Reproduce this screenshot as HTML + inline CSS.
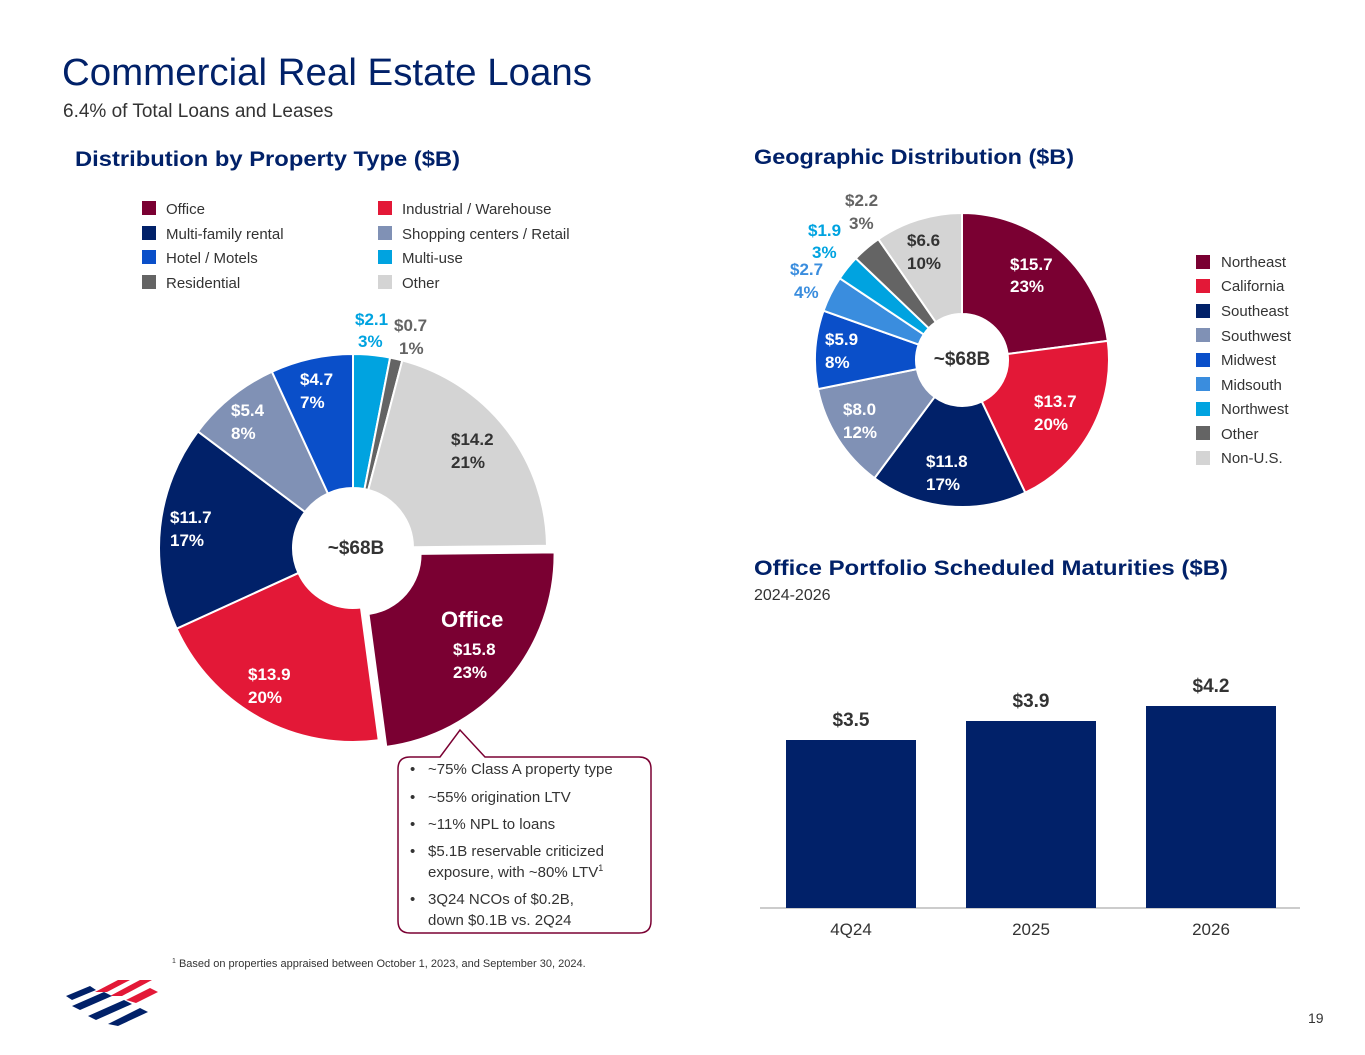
<!DOCTYPE html>
<html><head><meta charset="utf-8"><style>
body{margin:0;background:#fff;font-family:"Liberation Sans",sans-serif;}
svg{display:block}
text{font-family:"Liberation Sans",sans-serif}
.b{font-weight:bold}
</style></head><body>
<svg id="s" width="1365" height="1055" viewBox="0 0 1365 1055" xmlns="http://www.w3.org/2000/svg">
<text x="62" y="85" font-size="38" fill="#012169" textLength="530" lengthAdjust="spacingAndGlyphs">Commercial Real Estate Loans</text>
<text x="63" y="117" font-size="19" fill="#333">6.4% of Total Loans and Leases</text>
<text x="75" y="166" font-size="21" class="b" fill="#012169" textLength="385" lengthAdjust="spacingAndGlyphs">Distribution by Property Type ($B)</text>
<text x="754" y="164" font-size="21" class="b" fill="#012169" textLength="320" lengthAdjust="spacingAndGlyphs">Geographic Distribution ($B)</text>
<text x="754" y="575" font-size="21" class="b" fill="#012169" textLength="474" lengthAdjust="spacingAndGlyphs">Office Portfolio Scheduled Maturities ($B)</text>
<text x="754" y="600" font-size="16" fill="#333">2024-2026</text>
<g font-size="15" fill="#333">
<rect x="142" y="201" width="14" height="14" fill="#7a0032"/><text x="166" y="214">Office</text>
<rect x="142" y="226" width="14" height="14" fill="#012169"/><text x="166" y="239">Multi-family rental</text>
<rect x="142" y="250" width="14" height="14" fill="#0a4fc9"/><text x="166" y="263">Hotel / Motels</text>
<rect x="142" y="275" width="14" height="14" fill="#646464"/><text x="166" y="288">Residential</text>
<rect x="378" y="201" width="14" height="14" fill="#e31837"/><text x="402" y="214">Industrial / Warehouse</text>
<rect x="378" y="226" width="14" height="14" fill="#8091b5"/><text x="402" y="239">Shopping centers / Retail</text>
<rect x="378" y="250" width="14" height="14" fill="#00a3e0"/><text x="402" y="263">Multi-use</text>
<rect x="378" y="275" width="14" height="14" fill="#d4d4d4"/><text x="402" y="288">Other</text>
</g>
<g font-size="15" fill="#333">
<rect x="1196" y="255" width="14" height="14" fill="#7a0032"/><text x="1221" y="267">Northeast</text>
<rect x="1196" y="279" width="14" height="14" fill="#e31837"/><text x="1221" y="291">California</text>
<rect x="1196" y="304" width="14" height="14" fill="#012169"/><text x="1221" y="316">Southeast</text>
<rect x="1196" y="328" width="14" height="14" fill="#8091b5"/><text x="1221" y="341">Southwest</text>
<rect x="1196" y="353" width="14" height="14" fill="#0a4fc9"/><text x="1221" y="365">Midwest</text>
<rect x="1196" y="377" width="14" height="14" fill="#3a8dde"/><text x="1221" y="390">Midsouth</text>
<rect x="1196" y="402" width="14" height="14" fill="#00a3e0"/><text x="1221" y="414">Northwest</text>
<rect x="1196" y="426" width="14" height="14" fill="#646464"/><text x="1221" y="439">Other</text>
<rect x="1196" y="451" width="14" height="14" fill="#d4d4d4"/><text x="1221" y="463">Non-U.S.</text>
</g>
<g id="d1"></g><g id="d2"></g>
<g font-size="17" class="b">
<text x="355" y="325" fill="#00a3e0">$2.1</text><text x="358" y="347" fill="#00a3e0">3%</text>
<text x="394" y="331" fill="#646464">$0.7</text><text x="399" y="354" fill="#646464">1%</text>
<text x="451" y="445" fill="#333">$14.2</text><text x="451" y="468" fill="#333">21%</text>
<text x="300" y="385" fill="#fff">$4.7</text><text x="300" y="408" fill="#fff">7%</text>
<text x="231" y="416" fill="#fff">$5.4</text><text x="231" y="439" fill="#fff">8%</text>
<text x="170" y="523" fill="#fff">$11.7</text><text x="170" y="546" fill="#fff">17%</text>
<text x="248" y="680" fill="#fff">$13.9</text><text x="248" y="703" fill="#fff">20%</text>
<text x="441" y="627" font-size="22" fill="#fff">Office</text>
<text x="453" y="655" fill="#fff">$15.8</text><text x="453" y="678" fill="#fff">23%</text>
<text x="356" y="554" font-size="19" text-anchor="middle" fill="#333">~$68B</text>
<text x="962" y="365" font-size="19" text-anchor="middle" fill="#333">~$68B</text>
<text x="1010" y="270" fill="#fff">$15.7</text><text x="1010" y="292" fill="#fff">23%</text>
<text x="1034" y="407" fill="#fff">$13.7</text><text x="1034" y="430" fill="#fff">20%</text>
<text x="926" y="467" fill="#fff">$11.8</text><text x="926" y="490" fill="#fff">17%</text>
<text x="843" y="415" fill="#fff">$8.0</text><text x="843" y="438" fill="#fff">12%</text>
<text x="825" y="345" fill="#fff">$5.9</text><text x="825" y="368" fill="#fff">8%</text>
<text x="790" y="275" fill="#3a8dde">$2.7</text><text x="794" y="298" fill="#3a8dde">4%</text>
<text x="808" y="236" fill="#00a3e0">$1.9</text><text x="812" y="258" fill="#00a3e0">3%</text>
<text x="845" y="206" fill="#646464">$2.2</text><text x="849" y="229" fill="#646464">3%</text>
<text x="907" y="246" fill="#333">$6.6</text><text x="907" y="269" fill="#333">10%</text>
</g>
<line x1="760" y1="908" x2="1300" y2="908" stroke="#bbb" stroke-width="1.5"/>
<rect x="786" y="740" width="130" height="168" fill="#012169"/>
<rect x="966" y="721" width="130" height="187" fill="#012169"/>
<rect x="1146" y="706" width="130" height="202" fill="#012169"/>
<g font-size="19" class="b" fill="#333" text-anchor="middle">
<text x="851" y="726">$3.5</text><text x="1031" y="707">$3.9</text><text x="1211" y="692">$4.2</text></g>
<g font-size="17" fill="#333" text-anchor="middle">
<text x="851" y="935">4Q24</text><text x="1031" y="935">2025</text><text x="1211" y="935">2026</text></g>
<path d="M410 757 L440 757 L460 730 L485 757 L639 757 Q651 757 651 769 L651 921 Q651 933 639 933 L410 933 Q398 933 398 921 L398 769 Q398 757 410 757 Z" fill="#fff" stroke="#7a0032" stroke-width="1.5"/>
<g font-size="15" fill="#333">
<text x="410" y="774">•</text><text x="428" y="774">~75% Class A property type</text>
<text x="410" y="802">•</text><text x="428" y="802">~55% origination LTV</text>
<text x="410" y="829">•</text><text x="428" y="829">~11% NPL to loans</text>
<text x="410" y="856">•</text><text x="428" y="856">$5.1B reservable criticized</text>
<text x="428" y="877">exposure, with ~80% LTV<tspan font-size="9" dy="-6">1</tspan></text>
<text x="410" y="904">•</text><text x="428" y="904">3Q24 NCOs of $0.2B,</text>
<text x="428" y="925">down $0.1B vs. 2Q24</text>
</g>
<text x="172" y="967" font-size="11" fill="#333"><tspan font-size="7" dy="-4">1</tspan><tspan dy="4"> Based on properties appraised between October 1, 2023, and September 30, 2024.</tspan></text>
<text x="1308" y="1023" font-size="14" fill="#333">19</text>
<g>
<path d="M95 992 L118 980 L130 980 L107 992 Z" fill="#e31837"/>
<path d="M110 996 L140 980 L152 980 L122 996 Z" fill="#e31837"/>
<path d="M126 1000 L150 988 L158 992 L136 1003 Z" fill="#e31837"/>
<path d="M66 996 L90 986 L96 990 L72 1000 Z" fill="#012169"/>
<path d="M72 1006 L104 992 L112 996 L80 1010 Z" fill="#012169"/>
<path d="M88 1016 L124 1000 L132 1004 L96 1020 Z" fill="#012169"/>
<path d="M108 1024 L140 1008 L148 1012 L118 1026 Z" fill="#012169"/>
</g>
</svg>
<script>
function arc(cx,cy,r0,r1,a0,a1){var f=function(a,r){var t=a*Math.PI/180;return [cx+r*Math.sin(t),cy-r*Math.cos(t)]};
var l=(a1-a0)>180?1:0,p1=f(a0,r1),p2=f(a1,r1),p3=f(a1,r0),p4=f(a0,r0);
return 'M'+p1+' A'+r1+' '+r1+' 0 '+l+' 1 '+p2+' L'+p3+' A'+r0+' '+r0+' 0 '+l+' 0 '+p4+' Z';}
function donut(id,cx,cy,r0,r1,data,explode){var s=0,tot=0,h='';data.forEach(function(d){tot+=d[0]});
data.forEach(function(d,i){var a0=s/tot*360;s+=d[0];var a1=s/tot*360,x=cx,y=cy;
if(explode===i){var m=(a0+a1)/2*Math.PI/180;x+=10*Math.sin(m);y-=10*Math.cos(m);}
h+='<path d="'+arc(x,y,r0,r1,a0,a1)+'" fill="'+d[1]+'" stroke="#fff" stroke-width="2"/>';});
document.getElementById(id).innerHTML=h;}
donut('d1',353,548,60,194,[[2.1,'#00a3e0'],[0.7,'#646464'],[14.2,'#d4d4d4'],[15.8,'#7a0032'],[13.9,'#e31837'],[11.7,'#012169'],[5.4,'#8091b5'],[4.7,'#0a4fc9']],3);
donut('d2',962,360,46,147,[[15.7,'#7a0032'],[13.7,'#e31837'],[11.8,'#012169'],[8.0,'#8091b5'],[5.9,'#0a4fc9'],[2.7,'#3a8dde'],[1.9,'#00a3e0'],[2.2,'#646464'],[6.6,'#d4d4d4']]);
</script>
</body></html>
